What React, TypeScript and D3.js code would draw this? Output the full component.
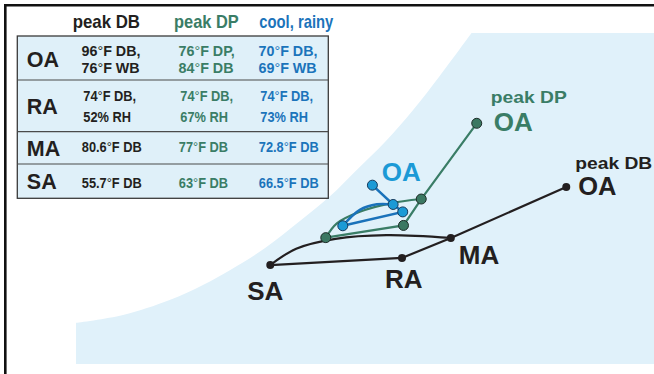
import React from "react";
import * as d3 from "d3";

const WIDTH = 654;
const HEIGHT = 374;

// State points [dry-bulb °F, humidity ratio gr/lb], order: OA, MA, RA, SA
const stateNames = ["OA", "MA", "RA", "SA"];
const peakDBStates: [number, number][] = [[96.2, 109.1], [80.6, 78.2], [74.0, 66.1], [56.2, 61.8]];
const peakDPStates: [number, number][] = [[84.1, 147.7], [76.6, 101.8], [74.2, 85.8], [63.7, 78.4]];
const coolRainyStates: [number, number][] = [[70.0, 110.2], [72.8, 98.5], [74.1, 94.0], [66.0, 85.6]];

// Cooling-coil process curves MA -> SA
const peakDBCoil: [number, number][] = [[80.6, 78.2], [71.9, 79.9], [65.0, 77.7], [59.7, 71.7], [56.2, 61.8]];
const peakDPCoil: [number, number][] = [[76.6, 101.8], [72.4, 99.2], [68.3, 94.1], [65.2, 87.1], [63.7, 78.4]];
const coolRainyCoil: [number, number][] = [[72.8, 98.5], [70.6, 98.6], [68.3, 95.2], [66.0, 85.6]];

// Saturation boundary of the chart region [dry-bulb °F, gr/lb]
const saturationCurve: [number, number][] = [
  [29.95, 26.7], [36.3, 31.5], [42.6, 40.6], [47.1, 49.7], [50.8, 58.8], [55.5, 72.1],
  [60.2, 88.5], [64.3, 103.6], [67.6, 118.2], [71.7, 136.4], [75.5, 155.8], [79.1, 176.4], [83.4, 202.4],
];
const chartDBMin = 29.95;
const chartDBMax = 108.2;
const chartWMin = 1.8;
const chartWMax = 202.4;

// Table
const tableHeaders = ["peak DB", "peak DP", "cool, rainy"];
const tableRows = ["OA", "RA", "MA", "SA"];
const peakDBCells = [["96°F DB,", "76°F WB"], ["74°F DB,", "52% RH"], ["80.6°F DB"], ["55.7°F DB"]];
const peakDPCells = [["76°F DP,", "84°F DB"], ["74°F DB,", "67% RH"], ["77°F DB"], ["63°F DB"]];
const coolRainyCells = [["70°F DB,", "69°F WB"], ["74°F DB,", "73% RH"], ["72.8°F DB"], ["66.5°F DB"]];

const BLACK = "#231f20";
const GREEN = "#3a7d66";
const BLUE_TEXT = "#1b74bb";
const BLUE_LINE = "#1a72ba";
const BLUE_LIGHT = "#1b9ad6";
const BG = "#e0f1fa";
const FONT = "'Liberation Sans', Arial, Helvetica, sans-serif";

const x = d3.scaleLinear().domain([20, 110]).range([2.4, 668.4]);
const y = d3.scaleLinear().domain([0, 200]).range([367, 37]);

const lineGen = d3.line<[number, number]>().x((d) => x(d[0])).y((d) => y(d[1]));
const curveGen = d3
  .line<[number, number]>()
  .x((d) => x(d[0]))
  .y((d) => y(d[1]))
  .curve(d3.curveCatmullRom.alpha(0.5));

function Deg({ s }: { s: string }) {
  const parts = s.split("°");
  return (
    <>
      {parts.map((p, i) => (
        <React.Fragment key={i}>
          {i > 0 && <tspan fontWeight={400}>°</tspan>}
          {p}
        </React.Fragment>
      ))}
    </>
  );
}

export default function App() {
  const sat = saturationCurve;
  const satSmooth = curveGen(sat) as string;
  const regionPath =
    `M${x(chartDBMin)},${y(chartWMin)}` +
    "L" + satSmooth.slice(1) +
    `L${x(chartDBMax)},${y(chartWMax)}L${x(chartDBMax)},${y(chartWMin)}Z`;

  const series = [
    { states: peakDBStates, coil: peakDBCoil, color: BLACK, dot: BLACK, r: 4, sw: 2.2, stroke: "none" },
    { states: peakDPStates, coil: peakDPCoil, color: GREEN, dot: "#3b7862", r: 5, sw: 2.2, stroke: "#1e2d28" },
    { states: coolRainyStates, coil: coolRainyCoil, color: BLUE_LINE, dot: BLUE_LIGHT, r: 5, sw: 2.5, stroke: "#163a5c" },
  ];

  const colX = [81.5, 178.5, 258.5];
  const rowBounds = [36, 80, 131.7, 164, 198.3];
  const rowLabelBase = [66.7, 114.3, 155.7, 189.3];
  const cellBase = [[55.7, 73.3], [100.5, 121.7], [152.2], [188.2]];
  const rowFont = [14.3, 14, 14, 14];
  const rowScale = [1, 0.915, 0.915, 0.915];
  const rowShift = [0, 1.8, 0.3, 0.3];
  const headerX = [72.7, 174, 259.3];
  const headerLen = [67.3, 64.7, 74];
  const headerColors = [BLACK, GREEN, BLUE_TEXT];
  const cellColors = [BLACK, GREEN, BLUE_TEXT];
  const cells = [peakDBCells, peakDPCells, coolRainyCells];

  const pt = (s: [number, number][], name: string) => s[stateNames.indexOf(name)];

  return (
    <svg
      width={WIDTH}
      height={HEIGHT}
      style={{ position: "absolute", left: 0, top: 0, background: "#fff" }}
      fontFamily={FONT}
    >
      <path d={regionPath} fill={BG} />
      <path d={`M5.3,${HEIGHT}V5.3H${WIDTH}`} fill="none" stroke="#111" strokeWidth={2.6} />

      {/* table */}
      <rect x={17.3} y={rowBounds[0]} width={311} height={rowBounds[4] - rowBounds[0]} fill="#dff0f9" stroke="#3a3a3a" strokeWidth={1.3} />
      {rowBounds.slice(1, 4).map((b, i) => (
        <line key={i} x1={17.3} x2={328.3} y1={b} y2={b} stroke="#4a4a4a" strokeWidth={1.2} />
      ))}
      {tableHeaders.map((h, i) => (
        <text key={h} x={headerX[i]} y={28} fontSize={18.5} fontWeight={700} fill={headerColors[i]} textLength={headerLen[i]} lengthAdjust="spacingAndGlyphs">
          {h}
        </text>
      ))}
      {tableRows.map((r, i) => (
        <text key={r} x={26.8} y={rowLabelBase[i]} fontSize={21.5} fontWeight={700} fill={BLACK}>
          {r}
        </text>
      ))}
      {cells.map((col, ci) =>
        col.map((lines, ri) =>
          lines.map((t, li) => (
            <text
              key={`${ci}-${ri}-${li}`}
              transform={`translate(${colX[ci] + rowShift[ri]},${cellBase[ri][li]}) scale(${rowScale[ri]},1)`}
              fontSize={rowFont[ri]}
              fontWeight={700}
              fill={cellColors[ci]}
            >
              <Deg s={t} />
            </text>
          ))
        )
      )}

      {/* process lines */}
      {series.map((s, i) => (
        <g key={i}>
          <path d={curveGen(s.coil) as string} fill="none" stroke={s.color} strokeWidth={s.sw} />
          <path d={lineGen(s.states) as string} fill="none" stroke={s.color} strokeWidth={s.sw} />
        </g>
      ))}
      {series.map((s, i) => (
        <g key={"d" + i}>
          {s.states.map((p, j) => (
            <circle key={j} cx={x(p[0])} cy={y(p[1])} r={s.r} fill={s.dot} stroke={s.stroke} strokeWidth={1} />
          ))}
        </g>
      ))}

      {/* labels */}
      <text x={x(pt(peakDBStates, "OA")[0]) + 9} y={y(pt(peakDBStates, "OA")[1]) - 18} fontSize={17} fontWeight={700} fill={BLACK} textLength={77} lengthAdjust="spacingAndGlyphs">peak DB</text>
      <text x={x(pt(peakDBStates, "OA")[0]) + 12} y={y(pt(peakDBStates, "OA")[1]) + 8} fontSize={25.5} fontWeight={700} fill={BLACK}>OA</text>
      <text x={x(pt(peakDBStates, "MA")[0]) + 8} y={y(pt(peakDBStates, "MA")[1]) + 26} fontSize={26} fontWeight={700} fill={BLACK}>MA</text>
      <text x={x(pt(peakDBStates, "RA")[0]) - 17} y={y(pt(peakDBStates, "RA")[1]) + 30} fontSize={26} fontWeight={700} fill={BLACK}>RA</text>
      <text x={x(pt(peakDBStates, "SA")[0]) - 23} y={y(pt(peakDBStates, "SA")[1]) + 35} fontSize={26} fontWeight={700} fill={BLACK}>SA</text>
      <text x={x(pt(peakDPStates, "OA")[0]) + 14} y={y(pt(peakDPStates, "OA")[1]) - 20} fontSize={17} fontWeight={700} fill={GREEN} textLength={76} lengthAdjust="spacingAndGlyphs">peak DP</text>
      <text x={x(pt(peakDPStates, "OA")[0]) + 17} y={y(pt(peakDPStates, "OA")[1]) + 7.4} fontSize={26} fontWeight={700} fill={GREEN}>OA</text>
      <text x={x(pt(coolRainyStates, "OA")[0]) + 9.4} y={y(pt(coolRainyStates, "OA")[1]) - 3.7} fontSize={26} fontWeight={700} fill={BLUE_LIGHT}>OA</text>
    </svg>
  );
}
